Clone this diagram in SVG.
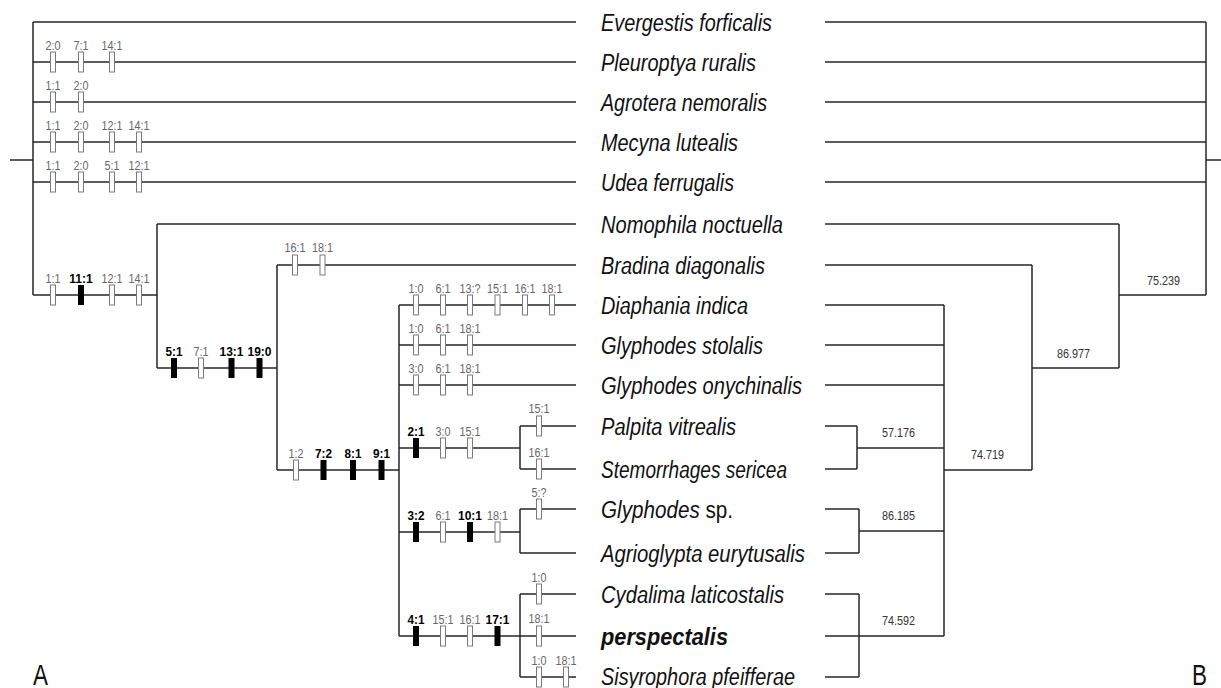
<svg xmlns="http://www.w3.org/2000/svg" xmlns:xlink="http://www.w3.org/1999/xlink" width="1221" height="688" viewBox="0 0 1221 688">
<defs>
<style>
.ln{fill:none;stroke:#262626;stroke-width:1.5}
.ob{fill:#fff;stroke:#7a7a7a;stroke-width:1}
.fb{fill:#000;stroke:none}
.c{font-family:"Liberation Sans Narrow","Liberation Sans",Arial,sans-serif;font-size:12.5px;fill:#666;text-anchor:middle}
.cb{font-family:"Liberation Sans Narrow","Liberation Sans",Arial,sans-serif;font-size:12.5px;font-weight:bold;fill:#000;text-anchor:middle}
.sp{font-family:"Liberation Sans Narrow","Liberation Sans",Arial,sans-serif;font-size:23px;font-style:italic;fill:#111}
.v{font-family:"Liberation Sans Narrow","Liberation Sans",Arial,sans-serif;font-size:12.5px;fill:#333}
.big{font-family:"Liberation Sans Narrow","Liberation Sans",Arial,sans-serif;font-size:30px;fill:#111}
</style>
<rect id="o" class="ob" x="-2.5" y="-10" width="5" height="20"/>
<rect id="f" class="fb" x="-3" y="-10" width="6" height="20"/>
</defs>
<rect width="1221" height="688" fill="#fff"/>
<g id="connectors">
<path class="ln" d="M10 160H33M33 22V295M33 22H576M33 62H576M33 102H576M33 142H576M33 182H576M33 295H157M157 224V368M157 224H576M157 368H277M277 265V470M277 265H576M277 470H399M399 305V636M399 305H576M399 345H576M399 385H576M399 448H520M520 426V469M520 426H576M520 469H576M399 532H520M520 509V553M520 509H576M520 553H576M399 636H576M520 594V677M520 594H576M520 677H576"/>
<path class="ln" d="M825 22H1206M825 62H1206M825 102H1206M825 142H1206M825 182H1206M1206 22V295M1206 160H1221M1119 295H1206M825 224H1119M1119 224V368M1032 368H1119M825 265H1032M1032 265V470M944 470H1032M944 305V636M825 305H944M825 345H944M825 385H944M825 426H857M825 469H857M857 426V469M857 448H944M825 509H859M825 553H859M859 509V553M859 531H944M825 594H859M825 677H859M859 594V677M825 636H944"/>
</g>
<g id="characters">
<g id="ch-pleuroptya">
<use href="#o" x="53" y="62"/><use href="#o" x="81" y="62"/><use href="#o" x="112" y="62"/>
<text class="c" x="53" y="50" textLength="15" lengthAdjust="spacingAndGlyphs">2:0</text>
<text class="c" x="81" y="50" textLength="15" lengthAdjust="spacingAndGlyphs">7:1</text>
<text class="c" x="112" y="50" textLength="21" lengthAdjust="spacingAndGlyphs">14:1</text>
</g>
<g id="ch-agrotera">
<use href="#o" x="53" y="102"/><use href="#o" x="81" y="102"/>
<text class="c" x="53" y="90" textLength="15" lengthAdjust="spacingAndGlyphs">1:1</text>
<text class="c" x="81" y="90" textLength="15" lengthAdjust="spacingAndGlyphs">2:0</text>
</g>
<g id="ch-mecyna">
<use href="#o" x="53" y="142"/><use href="#o" x="81" y="142"/><use href="#o" x="112" y="142"/><use href="#o" x="139" y="142"/>
<text class="c" x="53" y="130" textLength="15" lengthAdjust="spacingAndGlyphs">1:1</text>
<text class="c" x="81" y="130" textLength="15" lengthAdjust="spacingAndGlyphs">2:0</text>
<text class="c" x="112" y="130" textLength="21" lengthAdjust="spacingAndGlyphs">12:1</text>
<text class="c" x="139" y="130" textLength="21" lengthAdjust="spacingAndGlyphs">14:1</text>
</g>
<g id="ch-udea">
<use href="#o" x="53" y="182"/><use href="#o" x="81" y="182"/><use href="#o" x="112" y="182"/><use href="#o" x="139" y="182"/>
<text class="c" x="53" y="170" textLength="15" lengthAdjust="spacingAndGlyphs">1:1</text>
<text class="c" x="81" y="170" textLength="15" lengthAdjust="spacingAndGlyphs">2:0</text>
<text class="c" x="112" y="170" textLength="15" lengthAdjust="spacingAndGlyphs">5:1</text>
<text class="c" x="139" y="170" textLength="21" lengthAdjust="spacingAndGlyphs">12:1</text>
</g>
<g id="ch-clade1">
<use href="#o" x="53" y="295"/><use href="#f" x="81" y="295"/><use href="#o" x="112" y="295"/><use href="#o" x="139" y="295"/>
<text class="c" x="53" y="283" textLength="15" lengthAdjust="spacingAndGlyphs">1:1</text>
<text class="cb" x="81" y="283" textLength="23.5" lengthAdjust="spacingAndGlyphs">11:1</text>
<text class="c" x="112" y="283" textLength="21" lengthAdjust="spacingAndGlyphs">12:1</text>
<text class="c" x="139" y="283" textLength="21" lengthAdjust="spacingAndGlyphs">14:1</text>
</g>
<g id="ch-clade2">
<use href="#f" x="174" y="368"/><use href="#o" x="201" y="368"/><use href="#f" x="231.5" y="368"/><use href="#f" x="259.5" y="368"/>
<text class="cb" x="174" y="356" textLength="17" lengthAdjust="spacingAndGlyphs">5:1</text>
<text class="c" x="201" y="356" textLength="15" lengthAdjust="spacingAndGlyphs">7:1</text>
<text class="cb" x="231.5" y="356" textLength="24" lengthAdjust="spacingAndGlyphs">13:1</text>
<text class="cb" x="259.5" y="356" textLength="24" lengthAdjust="spacingAndGlyphs">19:0</text>
</g>
<g id="ch-bradina">
<use href="#o" x="295" y="265"/><use href="#o" x="322.5" y="265"/>
<text class="c" x="295" y="252" textLength="21" lengthAdjust="spacingAndGlyphs">16:1</text>
<text class="c" x="322.5" y="252" textLength="21" lengthAdjust="spacingAndGlyphs">18:1</text>
</g>
<g id="ch-clade3">
<use href="#o" x="296" y="470"/><use href="#f" x="323.5" y="470"/><use href="#f" x="353" y="470"/><use href="#f" x="381.5" y="470"/>
<text class="c" x="296" y="458" textLength="15" lengthAdjust="spacingAndGlyphs">1:2</text>
<text class="cb" x="323.5" y="458" textLength="17" lengthAdjust="spacingAndGlyphs">7:2</text>
<text class="cb" x="353" y="458" textLength="17" lengthAdjust="spacingAndGlyphs">8:1</text>
<text class="cb" x="381.5" y="458" textLength="17" lengthAdjust="spacingAndGlyphs">9:1</text>
</g>
<g id="ch-diaphania">
<use href="#o" x="416" y="305"/><use href="#o" x="443" y="305"/><use href="#o" x="470" y="305"/><use href="#o" x="497.5" y="305"/><use href="#o" x="525" y="305"/><use href="#o" x="552" y="305"/>
<text class="c" x="416" y="293" textLength="15" lengthAdjust="spacingAndGlyphs">1:0</text>
<text class="c" x="443" y="293" textLength="15" lengthAdjust="spacingAndGlyphs">6:1</text>
<text class="c" x="470" y="293" textLength="21" lengthAdjust="spacingAndGlyphs">13:?</text>
<text class="c" x="497.5" y="293" textLength="21" lengthAdjust="spacingAndGlyphs">15:1</text>
<text class="c" x="525" y="293" textLength="21" lengthAdjust="spacingAndGlyphs">16:1</text>
<text class="c" x="552" y="293" textLength="21" lengthAdjust="spacingAndGlyphs">18:1</text>
</g>
<g id="ch-stolalis">
<use href="#o" x="416" y="345"/><use href="#o" x="443" y="345"/><use href="#o" x="470" y="345"/>
<text class="c" x="416" y="333" textLength="15" lengthAdjust="spacingAndGlyphs">1:0</text>
<text class="c" x="443" y="333" textLength="15" lengthAdjust="spacingAndGlyphs">6:1</text>
<text class="c" x="470" y="333" textLength="21" lengthAdjust="spacingAndGlyphs">18:1</text>
</g>
<g id="ch-onychinalis">
<use href="#o" x="416" y="385"/><use href="#o" x="443" y="385"/><use href="#o" x="470" y="385"/>
<text class="c" x="416" y="373" textLength="15" lengthAdjust="spacingAndGlyphs">3:0</text>
<text class="c" x="443" y="373" textLength="15" lengthAdjust="spacingAndGlyphs">6:1</text>
<text class="c" x="470" y="373" textLength="21" lengthAdjust="spacingAndGlyphs">18:1</text>
</g>
<g id="ch-clade4">
<use href="#f" x="416" y="448"/><use href="#o" x="443" y="448"/><use href="#o" x="470" y="448"/>
<text class="cb" x="416" y="436" textLength="17" lengthAdjust="spacingAndGlyphs">2:1</text>
<text class="c" x="443" y="436" textLength="15" lengthAdjust="spacingAndGlyphs">3:0</text>
<text class="c" x="470" y="436" textLength="21" lengthAdjust="spacingAndGlyphs">15:1</text>
</g>
<g id="ch-palpita">
<use href="#o" x="539" y="426"/>
<text class="c" x="539" y="413" textLength="21" lengthAdjust="spacingAndGlyphs">15:1</text>
</g>
<g id="ch-stemorrhages">
<use href="#o" x="539" y="469"/>
<text class="c" x="539" y="457" textLength="21" lengthAdjust="spacingAndGlyphs">16:1</text>
</g>
<g id="ch-clade5">
<use href="#f" x="416" y="532"/><use href="#o" x="443" y="532"/><use href="#f" x="470" y="532"/><use href="#o" x="497.5" y="532"/>
<text class="cb" x="416" y="520" textLength="17" lengthAdjust="spacingAndGlyphs">3:2</text>
<text class="c" x="443" y="520" textLength="15" lengthAdjust="spacingAndGlyphs">6:1</text>
<text class="cb" x="470" y="520" textLength="24" lengthAdjust="spacingAndGlyphs">10:1</text>
<text class="c" x="497.5" y="520" textLength="21" lengthAdjust="spacingAndGlyphs">18:1</text>
</g>
<g id="ch-glyphodes-sp">
<use href="#o" x="539" y="509"/>
<text class="c" x="539" y="497" textLength="15" lengthAdjust="spacingAndGlyphs">5:?</text>
</g>
<g id="ch-clade6">
<use href="#f" x="416" y="636"/><use href="#o" x="443" y="636"/><use href="#o" x="470" y="636"/><use href="#f" x="497.5" y="636"/>
<text class="cb" x="416" y="624" textLength="17" lengthAdjust="spacingAndGlyphs">4:1</text>
<text class="c" x="443" y="624" textLength="21" lengthAdjust="spacingAndGlyphs">15:1</text>
<text class="c" x="470" y="624" textLength="21" lengthAdjust="spacingAndGlyphs">16:1</text>
<text class="cb" x="497.5" y="624" textLength="24" lengthAdjust="spacingAndGlyphs">17:1</text>
</g>
<g id="ch-cydalima">
<use href="#o" x="539" y="594"/>
<text class="c" x="539" y="582" textLength="15" lengthAdjust="spacingAndGlyphs">1:0</text>
</g>
<g id="ch-perspectalis">
<use href="#o" x="539" y="636"/>
<text class="c" x="539" y="623" textLength="21" lengthAdjust="spacingAndGlyphs">18:1</text>
</g>
<g id="ch-sisyrophora">
<use href="#o" x="539" y="677"/><use href="#o" x="566" y="677"/>
<text class="c" x="539" y="665" textLength="15" lengthAdjust="spacingAndGlyphs">1:0</text>
<text class="c" x="566" y="665" textLength="21" lengthAdjust="spacingAndGlyphs">18:1</text>
</g>
</g>
<g id="taxa">
<g id="t-evergestis"><text class="sp" x="601" y="31" textLength="171" lengthAdjust="spacingAndGlyphs">Evergestis forficalis</text></g>
<g id="t-pleuroptya"><text class="sp" x="601" y="71" textLength="155" lengthAdjust="spacingAndGlyphs">Pleuroptya ruralis</text></g>
<g id="t-agrotera"><text class="sp" x="601" y="111" textLength="166" lengthAdjust="spacingAndGlyphs">Agrotera nemoralis</text></g>
<g id="t-mecyna"><text class="sp" x="601" y="151" textLength="137" lengthAdjust="spacingAndGlyphs">Mecyna lutealis</text></g>
<g id="t-udea"><text class="sp" x="601" y="191" textLength="133" lengthAdjust="spacingAndGlyphs">Udea ferrugalis</text></g>
<g id="t-nomophila"><text class="sp" x="601" y="233" textLength="182" lengthAdjust="spacingAndGlyphs">Nomophila noctuella</text></g>
<g id="t-bradina"><text class="sp" x="601" y="274" textLength="164" lengthAdjust="spacingAndGlyphs">Bradina diagonalis</text></g>
<g id="t-diaphania"><text class="sp" x="601" y="314" textLength="147" lengthAdjust="spacingAndGlyphs">Diaphania indica</text></g>
<g id="t-stolalis"><text class="sp" x="601" y="354" textLength="162" lengthAdjust="spacingAndGlyphs">Glyphodes stolalis</text></g>
<g id="t-onychinalis"><text class="sp" x="601" y="394" textLength="201" lengthAdjust="spacingAndGlyphs">Glyphodes onychinalis</text></g>
<g id="t-palpita"><text class="sp" x="601" y="435" textLength="135" lengthAdjust="spacingAndGlyphs">Palpita vitrealis</text></g>
<g id="t-stemorrhages"><text class="sp" x="601" y="478" textLength="186" lengthAdjust="spacingAndGlyphs">Stemorrhages sericea</text></g>
<g id="t-glyphodes-sp"><text class="sp" x="601" y="518" textLength="132" lengthAdjust="spacingAndGlyphs">Glyphodes<tspan font-style="normal"> sp.</tspan></text></g>
<g id="t-agrioglypta"><text class="sp" x="601" y="562" textLength="204" lengthAdjust="spacingAndGlyphs">Agrioglypta eurytusalis</text></g>
<g id="t-cydalima"><text class="sp" x="601" y="603" textLength="183" lengthAdjust="spacingAndGlyphs">Cydalima laticostalis</text></g>
<g id="t-perspectalis"><text class="sp" x="601" y="645" font-weight="bold" textLength="127" lengthAdjust="spacingAndGlyphs">perspectalis</text></g>
<g id="t-sisyrophora"><text class="sp" x="601" y="685" textLength="194" lengthAdjust="spacingAndGlyphs">Sisyrophora pfeifferae</text></g>
</g>
<g id="support-values">
<text class="v" x="1147" y="285" textLength="33" lengthAdjust="spacingAndGlyphs">75.239</text>
<text class="v" x="1057" y="358" textLength="33" lengthAdjust="spacingAndGlyphs">86.977</text>
<text class="v" x="971" y="459" textLength="33" lengthAdjust="spacingAndGlyphs">74.719</text>
<text class="v" x="882" y="437" textLength="33" lengthAdjust="spacingAndGlyphs">57.176</text>
<text class="v" x="882" y="520" textLength="33" lengthAdjust="spacingAndGlyphs">86.185</text>
<text class="v" x="882" y="625" textLength="33" lengthAdjust="spacingAndGlyphs">74.592</text>
</g>
<g id="panel-labels">
<text class="big" x="33" y="685" textLength="15" lengthAdjust="spacingAndGlyphs">A</text>
<text class="big" x="1192" y="685" textLength="15" lengthAdjust="spacingAndGlyphs">B</text>
</g>
</svg>
